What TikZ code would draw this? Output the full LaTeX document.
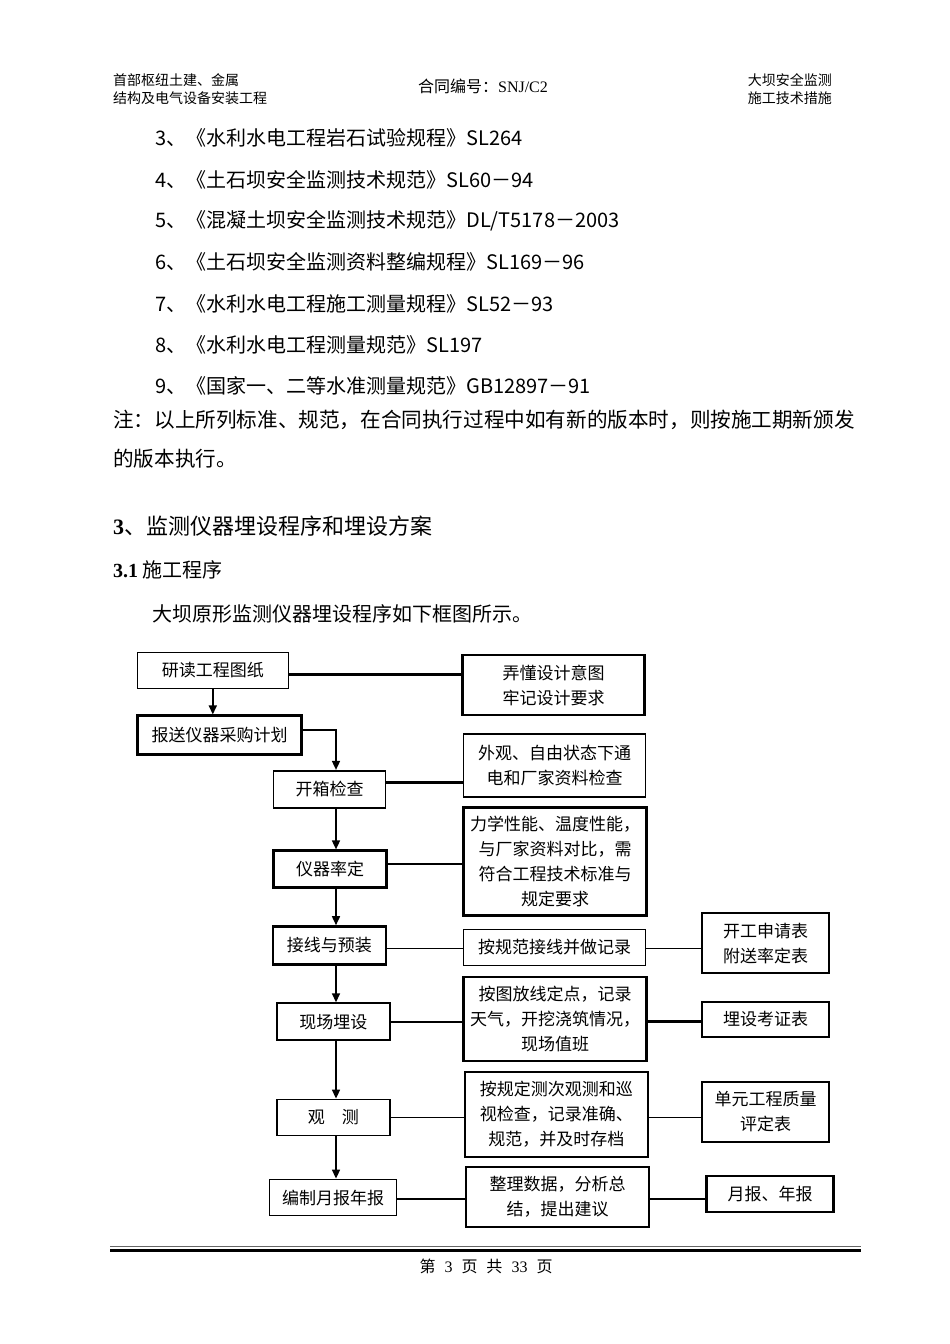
\documentclass[tikz,border=0pt]{standalone}
\usepackage{fontspec}
\setmainfont{Noto Sans CJK SC}
\newfontfamily\latserif{Liberation Serif}
\usetikzlibrary{arrows.meta,calc}

\tikzset{
  stage/.style={draw, line width=1.8pt, inner sep=0pt, align=center,
    font=\fontsize{17}{25}\selectfont},
  heavy/.style={line width=2.5pt},
  link/.style={line width=1.5pt},
  flow/.style={line width=1.6pt, -{Triangle[length=9pt,width=8pt]}},
  bodytext/.style={anchor=west, inner sep=0pt, font=\fontsize{20}{20}\selectfont},
  headtext/.style={inner sep=0pt, align=left, font=\fontsize{14}{18}\selectfont},
}

\begin{document}
\begin{tikzpicture}[x=1pt,y=-1pt]
    \useasboundingbox (0,0) rectangle (950,1344);
    \fill[white] (0,0) rectangle (950,1344);
    % Page header
    \node[headtext, anchor=west] (hdleft) at (113,89) {首部枢纽土建、金属\\结构及电气设备安装工程};
    \node[inner sep=0pt, font=\fontsize{16}{18}\selectfont] (hdmid) at (483,86) {合同编号：{\latserif SNJ/C2}};
    \node[headtext, anchor=east] (hdright) at (832,89) {大坝安全监测\\施工技术措施};
    % List of standards
    \node[bodytext] (std3) at (155,138) {3、《水利水电工程岩石试验规程》SL264};
    \node[bodytext] (std4) at (155,180) {4、《土石坝安全监测技术规范》SL60－94};
    \node[bodytext] (std5) at (155,221) {5、《混凝土坝安全监测技术规范》DL/T5178－2003};
    \node[bodytext] (std6) at (155,262) {6、《土石坝安全监测资料整编规程》SL169－96};
    \node[bodytext] (std7) at (155,304) {7、《水利水电工程施工测量规程》SL52－93};
    \node[bodytext] (std8) at (155,345) {8、《水利水电工程测量规范》SL197};
    \node[bodytext] (std9) at (155,386) {9、《国家一、二等水准测量规范》GB12897－91};
    \node[bodytext, font=\fontsize{20.6}{20}\selectfont] (note1) at (113,420) {注：以上所列标准、规范，在合同执行过程中如有新的版本时，则按施工期新颁发};
    \node[bodytext, font=\fontsize{20.6}{20}\selectfont] (note2) at (113,459) {的版本执行。};
    % Section headings
    \node[bodytext, font=\fontsize{22}{22}\selectfont] (sec3) at (113,526) {{\latserif\bfseries 3}、监测仪器埋设程序和埋设方案};
    \node[bodytext] (sec31) at (113,570) {{\latserif\bfseries 3.1} 施工程序};
    \node[bodytext] (intro) at (152,614) {大坝原形监测仪器埋设程序如下框图所示。};

    % Left column: main steps
    \node[stage, line width=1.5pt, minimum width=151pt, minimum height=36pt] (read) at (212.8,670.5) {研读工程图纸};
    \node[stage, line width=2.2pt, minimum width=164pt, minimum height=39pt] (report) at (219.5,735) {报送仪器采购计划};
    \node[stage, minimum width=112pt, minimum height=37pt] (unpack) at (329.5,789.3) {开箱检查};
    \node[stage, line width=2.2pt, minimum width=113pt, minimum height=37pt] (calib) at (330,869) {仪器率定};
    \node[stage, line width=2.6pt, minimum width=113pt, minimum height=38pt] (wiring) at (329.3,945.5) {接线与预装};
    \node[stage, minimum width=113pt, minimum height=37pt] (embed) at (333.3,1021.7) {现场埋设};
    \node[stage, minimum width=113pt, minimum height=36pt] (observe) at (333.3,1117.5) {观\quad 测};
    \node[stage, minimum width=127pt, minimum height=36pt] (annual) at (333,1197.5) {编制月报年报};

    % Middle column: requirements
    \node[stage, line width=2.2pt, minimum width=182pt, minimum height=60pt] (intent) at (553.5,685) {弄懂设计意图\\牢记设计要求};
    \node[stage, minimum width=182pt, minimum height=63pt] (checkA) at (554.5,765.8) {外观、自由状态下通\\电和厂家资料检查};
    \node[stage, line width=2.2pt, minimum width=183pt, minimum height=108pt] (checkB) at (555,861.5) {力学性能、温度性能，\\与厂家资料对比，需\\符合工程技术标准与\\规定要求};
    \node[stage, line width=1.5pt, minimum width=182pt, minimum height=36pt] (wirerec) at (554.5,947.5) {按规范接线并做记录};
    \node[stage, line width=2.2pt, minimum width=183pt, minimum height=84pt] (layout) at (555,1019) {按图放线定点，记录\\天气，开挖浇筑情况，\\现场值班};
    \node[stage, line width=2.2pt, minimum width=183pt, minimum height=85pt] (obsrec) at (556.3,1114.2) {按规定测次观测和巡\\视检查，记录准确、\\规范，并及时存档};
    \node[stage, line width=2.2pt, minimum width=183pt, minimum height=60pt] (summary) at (557.5,1196.7) {整理数据，分析总\\结，提出建议};

    % Right column: forms
    \node[stage, minimum width=127pt, minimum height=60pt] (startform) at (765.7,943.3) {开工申请表\\附送率定表};
    \node[stage, minimum width=127pt, minimum height=35pt] (embedform) at (765.7,1019.2) {埋设考证表};
    \node[stage, minimum width=127pt, minimum height=60pt] (qualform) at (765.7,1111.7) {单元工程质量\\评定表};
    \node[stage, line width=2.4pt, minimum width=127pt, minimum height=36pt] (yearform) at (770,1194) {月报、年报};

    % Arrows down the main steps
    \coordinate (spine) at (336,0);
    \coordinate (r1) at ($(report.east)+(0,-5)$);
    \draw[flow] (read.south) -- (read.south |- report.north);
    \draw[flow] (r1) -| (unpack.north -| spine);
    \draw[flow] (unpack.south -| spine) -- (calib.north -| spine);
    \draw[flow] (calib.south -| spine) -- (wiring.north -| spine);
    \draw[flow] (wiring.south -| spine) -- (embed.north -| spine);
    \draw[flow] (embed.south -| spine) -- (observe.north -| spine);
    \draw[flow] (observe.south -| spine) -- (annual.north -| spine);

    % Side links
    \coordinate (h1) at ($(read.east)+(0,3.8)$);
    \coordinate (h2) at ($(unpack.east)+(0,-6.6)$);
    \coordinate (h3) at ($(calib.east)+(0,-5)$);
    \coordinate (h4) at ($(wiring.east)+(0,2.8)$);
    \coordinate (h5) at ($(annual.east)+(0,1.5)$);
    \draw[heavy] (h1) -- (h1 -| intent.west);
    \draw[heavy] (h2) -- (h2 -| checkA.west);
    \draw[link] (h3) -- (h3 -| checkB.west);
    \draw[link] (h4) -- (h4 -| wirerec.west);
    \draw[link] (h4 -| wirerec.east) -- (h4 -| startform.west);
    \draw[line width=2pt] (embed.east) -- (embed.east -| layout.west);
    \draw[heavy] (embed.east -| layout.east) -- (embed.east -| embedform.west);
    \draw[link] (observe.east) -- (observe.east -| obsrec.west);
    \draw[link] (observe.east -| obsrec.east) -- (observe.east -| qualform.west);
    \draw[link] (h5) -- (h5 -| summary.west);
    \draw[heavy] (h5 -| summary.east) -- (h5 -| yearform.west);

    % Page footer
    \draw[line width=1pt, black!60] (110,1246.5) -- (861,1246.5);
    \draw[line width=3.5pt] (110,1250.7) -- (861,1250.7);
    \node[inner sep=0pt, font=\fontsize{16}{16}\selectfont] (pageno) at (486,1266) {第\hspace{9pt}{\latserif 3}\hspace{9pt}页\hspace{9pt}共\hspace{9pt}{\latserif 33}\hspace{9pt}页};
\end{tikzpicture}
\end{document}
